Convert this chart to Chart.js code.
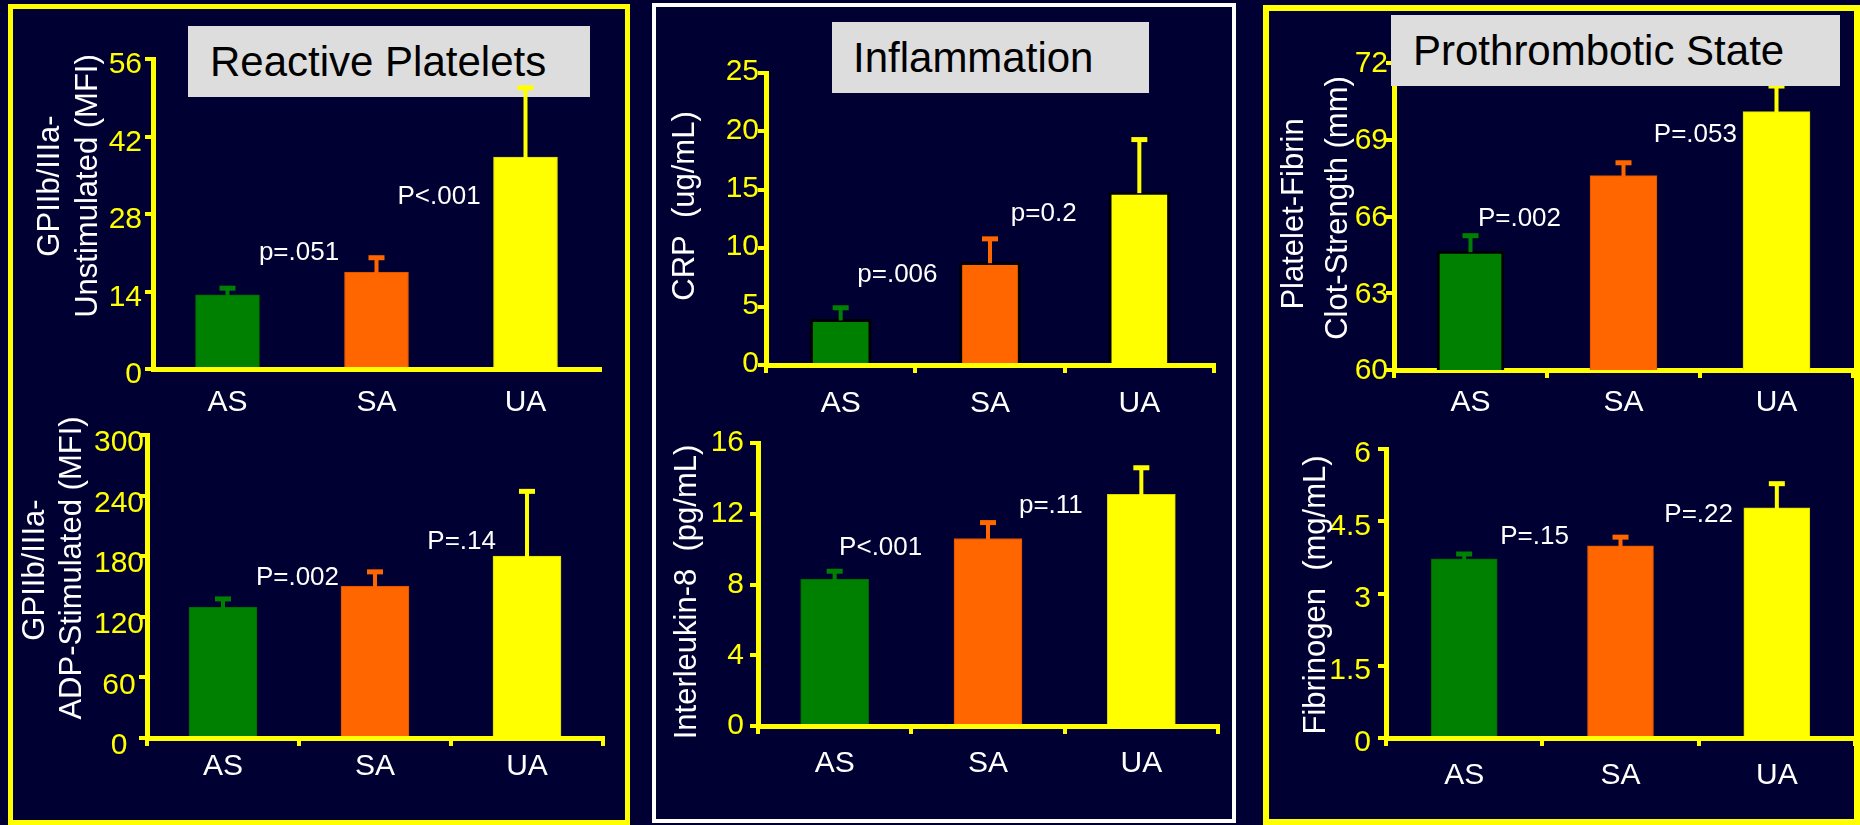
<!DOCTYPE html>
<html>
<head>
<meta charset="utf-8">
<script src="https://cdn.jsdelivr.net/npm/chart.js@4.4.1/dist/chart.umd.min.js"></script>
<style>
  html, body { margin: 0; padding: 0; background: #000033; width: 1860px; height: 825px; overflow: hidden; }
  .panel { position: absolute; box-sizing: border-box; }
  canvas { position: absolute; z-index: 2; }
  .tbox { position: absolute; background: #dddddd; color: #000; box-sizing: border-box;
          font-family: 'Liberation Sans', Arial, sans-serif; font-size: 42px; height: 71px; line-height: 71px; white-space: nowrap; }
</style>
</head>
<body>
<div class="panel" style="left:8px;top:4px;width:622px;height:821px;border:5px solid #ffff00;"></div>
<div class="panel" style="left:652px;top:3px;width:584px;height:820px;border:4px solid #ffffff;"></div>
<div class="panel" style="left:1263px;top:5px;width:597px;height:820px;border:6px solid #ffff00;"></div>

<div class="tbox" style="left:188px;top:26px;width:402px;padding-left:22px;z-index:1;">Reactive Platelets</div>

<canvas id="c1"></canvas>
<canvas id="c2"></canvas>
<canvas id="c3"></canvas>
<canvas id="c4"></canvas>
<canvas id="c5"></canvas>
<canvas id="c6"></canvas>

<div class="tbox" style="left:832px;top:22px;width:317px;padding-left:21px;z-index:5;">Inflammation</div>
<div class="tbox" style="left:1391px;top:15px;width:449px;padding-left:22px;z-index:5;">Prothrombotic State</div>

<script>
// ---------------- DATA ----------------
const categories = ['AS', 'SA', 'UA'];
const barColors = ['#008000', '#ff6600', '#ffff00'];

const unstimMean = [13.4, 17.5, 38.3];
const unstimErr  = [1.2, 2.6, 12.5];
const unstimTicks = [0, 14, 28, 42, 56];
const unstimP = ['p=.051', 'P<.001'];

const adpMean = [129.7, 150.5, 180.2];
const adpErr  = [8, 14, 64];
const adpTicks = [0, 60, 120, 180, 240, 300];
const adpP = ['P=.002', 'P=.14'];

const crpMean = [3.9, 8.8, 14.8];
const crpErr  = [1.0, 2.0, 4.5];
const crpTicks = [0, 5, 10, 15, 20, 25];
const crpP = ['p=.006', 'p=0.2'];

const il8Mean = [8.3, 10.6, 13.1];
const il8Err  = [0.45, 0.9, 1.5];
const il8Ticks = [0, 4, 8, 12, 16];
const il8P = ['P<.001', 'p=.11'];

const clotMean = [64.65, 67.6, 70.1];
const clotErr  = [0.6, 0.5, 1.0];
const clotTicks = [60, 63, 66, 69, 72];
const clotP = ['P=.002', 'P=.053'];

const fibMean = [3.72, 3.99, 4.78];
const fibErr  = [0.1, 0.18, 0.5];
const fibTicks = [0, 1.5, 3, 4.5, 6];
const fibP = ['P=.15', 'P=.22'];

// ---------------- LAYOUT ----------------
const FONT = "'Liberation Sans', Arial, sans-serif";
const YELLOW = '#ffff00';

function makeAnnot(g, mean, err, pTexts) {
  return {
    id: 'annot_' + g.id,
    afterDatasetsDraw(chart) {
      const ctx = chart.ctx;
      const xs = chart.scales.x, ys = chart.scales.y;
      const meta = chart.getDatasetMeta(0);
      ctx.save();
      meta.data.forEach((bar, i) => {
        const x = bar.x;
        const yBar = bar.y;
        const yTop = ys.getPixelForValue(mean[i] + err[i]);
        ctx.fillStyle = barColors[i];
        ctx.fillRect(x - 2, yTop, 4, yBar - yTop + 1);
        ctx.fillRect(x - 8, yTop - 2.5, 16, 5);
      });
      ctx.fillStyle = '#ffffff';
      ctx.font = '26px ' + FONT;
      ctx.textAlign = 'center';
      ctx.textBaseline = 'middle';
      const p0 = xs.getPixelForValue(0), p1 = xs.getPixelForValue(1);
      pTexts.forEach((t, k) => {
        const [fi, v] = g.pPos[k];
        ctx.fillText(t, p0 + fi * (p1 - p0), ys.getPixelForValue(v));
      });
      ctx.restore();
    },
    afterDraw(chart) {
      const ctx = chart.ctx;
      ctx.save();
      ctx.fillStyle = '#ffffff';
      ctx.font = '31px ' + FONT;
      ctx.textAlign = 'center';
      ctx.textBaseline = 'middle';
      g.yTitle.forEach(l => {
        ctx.save();
        ctx.translate(l.x - g.canvas[0], l.y - g.canvas[1]);
        ctx.rotate(-Math.PI / 2);
        ctx.fillText(l.t, 0, 0);
        ctx.restore();
      });
      ctx.restore();
    }
  };
}

function build(g, mean, err, ticks, pTexts) {
  const [cx, cy, cw, ch] = g.canvas;
  const [L, T, R, B] = g.area;
  const cv = document.getElementById(g.id);
  cv.width = cw; cv.height = ch;
  cv.style.left = cx + 'px'; cv.style.top = cy + 'px';
  cv.style.width = cw + 'px'; cv.style.height = ch + 'px';
  const xTicksOn = g.xTickMarks !== false;
  new Chart(cv, {
    type: 'bar',
    data: {
      labels: categories,
      datasets: [{
        data: mean,
        backgroundColor: barColors,
        borderColor: g.borderColor,
        borderWidth: g.borderWidth,
        borderSkipped: 'start',
        barThickness: g.barW
      }]
    },
    options: {
      responsive: false,
      animation: false,
      events: [],
      layout: { padding: { left: 0, top: T - cy, right: cx + cw - R, bottom: 0 } },
      plugins: { legend: { display: false }, tooltip: { enabled: false }, title: { display: false } },
      scales: {
        x: {
          offset: true,
          grid: { display: true, drawOnChartArea: false, drawTicks: xTicksOn, tickLength: 8, lineWidth: 4, color: YELLOW, offset: true },
          border: { display: true, color: YELLOW, width: 5 },
          ticks: { color: '#ffffff', font: { family: FONT, size: 30, lineHeight: 1.2 }, padding: xTicksOn ? g.xPad : g.xPad + 8, maxRotation: 0, autoSkip: false },
          afterFit: a => { a.height = cy + ch - B; }
        },
        y: {
          min: ticks[0],
          max: ticks[ticks.length - 1],
          afterBuildTicks: a => { a.ticks = ticks.map(v => ({ value: v })); },
          grid: { display: true, drawOnChartArea: false, drawTicks: true, tickLength: 8, lineWidth: 4, color: YELLOW },
          border: { display: true, color: YELLOW, width: 5 },
          ticks: { color: YELLOW, font: { family: FONT, size: 30, lineHeight: 1.2 }, padding: g.yPad,
                   labelOffset: g.yLabelOffset, crossAlign: g.crossAlign || 'near',
                   callback: v => String(v) },
          afterFit: a => { a.width = L - cx; }
        }
      }
    },
    plugins: [makeAnnot(g, mean, err, pTexts)]
  });
}

const thinBorders = ['#006400', '#d85000', '#d8d800'];

build({
  id: 'c1', canvas: [14, 10, 608, 420], area: [153, 59, 600, 369],
  barW: 64, borderColor: thinBorders, borderWidth: 1, xTickMarks: false,
  xPad: 8, yPad: 3, yLabelOffset: 6,
  pPos: [[0.48, 21.0], [1.42, 31.1]],
  yTitle: [{ t: 'GPIIb/IIIa-', x: 50, y: 186 }, { t: 'Unstimulated (MFI)', x: 88, y: 186 }]
}, unstimMean, unstimErr, unstimTicks, unstimP);

build({
  id: 'c2', canvas: [14, 400, 608, 417], area: [147, 435, 603, 738],
  barW: 68, borderColor: thinBorders, borderWidth: 1,
  xPad: 3, yPad: -5, yLabelOffset: 8, crossAlign: 'center',
  pPos: [[0.49, 158.4], [1.57, 194]],
  yTitle: [{ t: 'GPIIb/IIIa-', x: 35, y: 570 }, { t: 'ADP-Stimulated (MFI)', x: 72, y: 568 }]
}, adpMean, adpErr, adpTicks, adpP);

build({
  id: 'c3', canvas: [660, 10, 572, 420], area: [766, 73, 1214, 365],
  barW: 61, borderColor: '#000000', borderWidth: 3,
  xPad: 13, yPad: -1, yLabelOffset: -1,
  pPos: [[0.38, 7.7], [1.36, 12.9]],
  yTitle: [{ t: 'CRP  (ug/mL)', x: 685, y: 206 }]
}, crpMean, crpErr, crpTicks, crpP);

build({
  id: 'c4', canvas: [660, 400, 572, 417], area: [758, 443, 1218, 726],
  barW: 68, borderColor: thinBorders, borderWidth: 1,
  xPad: 12, yPad: 6, yLabelOffset: 0,
  pPos: [[0.30, 10.1], [1.41, 12.44]],
  yTitle: [{ t: 'Interleukin-8  (pg/mL)', x: 687, y: 592 }]
}, il8Mean, il8Err, il8Ticks, il8P);

build({
  id: 'c5', canvas: [1271, 10, 586, 420], area: [1394, 63, 1853, 370],
  barW: 67, borderColor: ['#000000', '#d85000', '#d8d800'], borderWidth: [3, 1, 1],
  xPad: 7, yPad: -2, yLabelOffset: 1,
  pPos: [[0.32, 65.9], [1.47, 69.19]],
  yTitle: [{ t: 'Platelet-Fibrin', x: 1294, y: 214 }, { t: 'Clot-Strength (mm)', x: 1338, y: 208 }]
}, clotMean, clotErr, clotTicks, clotP);

build({
  id: 'c6', canvas: [1271, 400, 586, 417], area: [1386, 449, 1855, 738],
  barW: 66, borderColor: thinBorders, borderWidth: 1,
  xPad: 12, yPad: 7, yLabelOffset: 5,
  pPos: [[0.45, 4.17], [1.50, 4.63]],
  yTitle: [{ t: 'Fibrinogen  (mg/mL)', x: 1316, y: 595 }]
}, fibMean, fibErr, fibTicks, fibP);
</script>
</body>
</html>
